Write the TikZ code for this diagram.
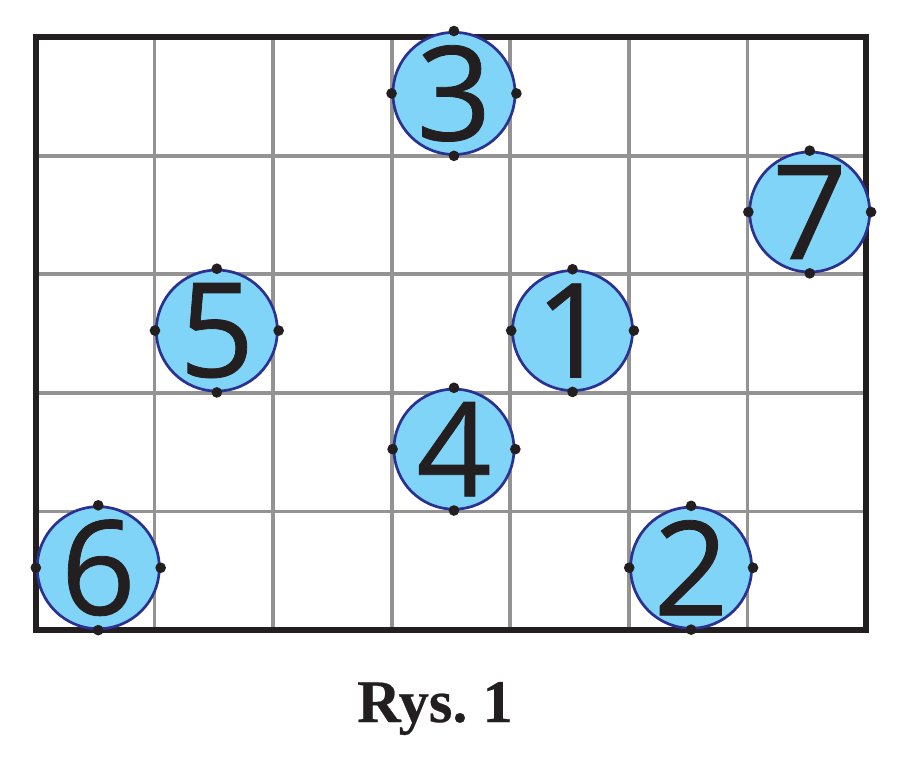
\documentclass[tikz,border=0pt]{standalone}
\usepackage{fontspec}
\newfontfamily\digitfont[FakeBold=0.6]{Open Sans}
\newfontfamily\capfont[FakeBold=0.4]{Liberation Serif}
\usetikzlibrary{positioning}
\definecolor{discblue}{HTML}{80D4F8}
\definecolor{rimblue}{HTML}{2B3190}
\definecolor{ink}{HTML}{231F20}

\begin{document}
\begin{tikzpicture}[
            disc/.style={circle, draw=rimblue, line width=1.3pt, fill=discblue, minimum size=1.96cm, inner sep=0pt, text=ink, font=\digitfont\fontsize{63}{63}\selectfont},
            gridline/.style={gray!85, line width=1.8pt},
            pin/.style={fill=ink}]

            \useasboundingbox (-0.607,-2.277) rectangle (14.573,10.626);

            % board
            \draw[gridline] (0,0) grid[step=2] (14,10);
            \draw[ink, line width=2.6pt] (0,0) rectangle (14,10);

            \node[disc] (n3) at (7.05,9.05) {3};
            \node[disc] (n7) at (13.05,7.05) {7};
            \node[disc] (n5) at (3.05,5.05) {5};
            \node[disc] (n1) at (9.05,5.05) {1};
            \node[disc] (n4) at (7.05,3.05) {4};
            \node[disc] (n6) at (1.05,1.05) {6};
            \node[disc] (n2) at (11.05,1.05) {2};

            \foreach \n in {n1,n2,n3,n4,n5,n6,n7}
              \foreach \a in {north,south,east,west}
                \fill[pin] (\n.\a) circle (0.09);

            \node[text=ink, font=\capfont\bfseries\fontsize{29}{29}\selectfont, anchor=base] (caption) at (6.73,-1.552) {Rys.\ 1};
        \end{tikzpicture}
\end{document}
